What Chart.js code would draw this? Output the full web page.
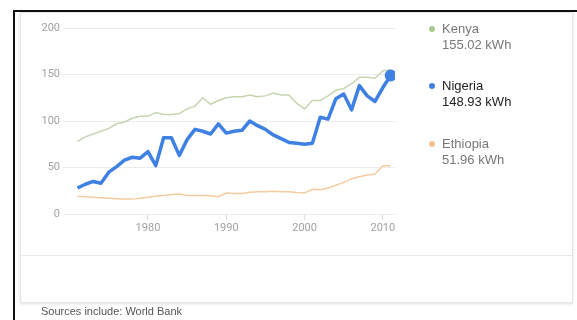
<!DOCTYPE html>
<html>
<head>
<meta charset="utf-8">
<script src="https://cdn.jsdelivr.net/npm/chart.js@4.4.1/dist/chart.umd.min.js"></script>
<style>
    html, body { margin: 0; width: 577px; height: 320px; overflow: hidden; background: #fff; }
    body { font-family: "Liberation Sans", Arial, sans-serif; position: relative; }
    #frame { position: absolute; left: 13px; top: 10px; width: 562px; height: 310px; border-left: 2px solid #111; border-top: 2px solid #111; }
    #card { position: absolute; left: 20px; top: 12px; width: 551px; height: 289px; border: 1px solid #e6e6e6; box-shadow: 0 1px 3px rgba(0,0,0,0.12); background: #fff; }
    #sep { position: absolute; left: 21px; top: 255px; width: 551px; border-top: 1px solid #e8e8e8; }
    #grafico { position: absolute; left: 0; top: 0; }
    .leyenda { position: absolute; left: 442px; font-size: 13px; line-height: 16px; color: #777; }
    .leyenda .punto { position: absolute; left: -13px; top: 5px; width: 6px; height: 6px; border-radius: 50%; }
    #fuente { position: absolute; left: 41px; top: 305px; font-size: 11px; color: #555; }
</style>
</head>
<body>
<div id="frame"></div>
<div id="card"></div>
<div id="sep"></div>
<canvas id="grafico" width="577" height="320"></canvas>
<div id="leyendas"></div>
<div id="fuente">Sources include: World Bank</div>
<script>
// Consumo eléctrico per cápita (kWh)
const years = [1971, 1972, 1973, 1974, 1975, 1976, 1977, 1978, 1979, 1980,
    1981, 1982, 1983, 1984, 1985, 1986, 1987, 1988, 1989, 1990,
    1991, 1992, 1993, 1994, 1995, 1996, 1997, 1998, 1999, 2000,
    2001, 2002, 2003, 2004, 2005, 2006, 2007, 2008, 2009, 2010, 2011];

const nigeria = [28, 32, 35, 33, 45, 51, 58, 61, 60, 67,
    52, 82, 82, 63, 80, 91, 89, 86, 97, 87,
    89, 90, 100, 95, 91, 85, 81, 77, 76, 75,
    76, 104, 102, 124, 129, 112, 138, 127, 121, 136, 148.93];

const kenya = [78, 83, 86, 89, 92, 97, 99, 103, 105, 105,
    109, 107, 107, 108, 113, 116, 125, 118, 122, 125,
    126, 126, 128, 126, 127, 130, 128, 128, 119, 113,
    122, 122, 127, 133, 135, 140, 147, 147, 146, 154, 155.02];

const ethiopia = [19, 18.5, 18, 17.5, 17, 16.5, 16, 16, 17, 18,
    19, 20, 21, 21.5, 20, 20, 20, 19.5, 18.5, 22.5,
    22, 22, 23.5, 24, 24, 24.5, 24, 24, 23, 22.5,
    26.5, 26, 28, 31, 34, 38, 40, 42, 43, 52, 51.96];

const yearTicks = [1980, 1990, 2000, 2010];
const valueTicks = [0, 50, 100, 150, 200];

const series = [
    { name: 'Kenya', data: kenya, color: '#c6d5b0', dot: '#a9c78f', width: 1.5, top: 21, text: '#777' },
    { name: 'Nigeria', data: nigeria, color: '#3f80e3', dot: '#3f80e3', width: 3.5, top: 78, text: '#222' },
    { name: 'Ethiopia', data: ethiopia, color: '#f6cc9f', dot: '#f4c08a', width: 1.5, top: 136, text: '#777' }
];

function puntos(valores) {
    return years.map((y, i) => ({ x: y, y: valores[i] }));
}

// Leyenda a la derecha con el último valor
const cont = document.getElementById('leyendas');
series.forEach(s => {
    const ultimo = s.data[s.data.length - 1];
    cont.insertAdjacentHTML('beforeend',
        `<div class="leyenda" style="top:${s.top}px;color:${s.text}"><span class="punto" style="background:${s.dot}"></span>${s.name}<br>${ultimo.toFixed(2)} kWh</div>`);
});

const nig = series[1];
const ultimoIdx = nigeria.length - 1;

const ctx = document.getElementById('grafico').getContext('2d');
new Chart(ctx, {
    type: 'line',
    data: {
        datasets: [
            {
                label: nig.name,
                data: puntos(nigeria),
                borderColor: nig.color,
                backgroundColor: nig.color,
                borderWidth: nig.width,
                pointRadius: c => c.dataIndex === ultimoIdx ? 6 : 0,
                pointBorderWidth: 0,
                borderJoinStyle: 'round',
                tension: 0
            },
            {
                label: series[0].name,
                data: puntos(kenya),
                borderColor: series[0].color,
                borderWidth: series[0].width,
                pointRadius: 0,
                tension: 0
            },
            {
                label: series[2].name,
                data: puntos(ethiopia),
                borderColor: series[2].color,
                borderWidth: series[2].width,
                pointRadius: 0,
                tension: 0
            }
        ]
    },
    options: {
        responsive: false,
        animation: false,
        layout: { padding: { left: 0, top: 28, right: 182, bottom: 82 } },
        plugins: {
            legend: { display: false },
            tooltip: { enabled: false }
        },
        scales: {
            x: {
                type: 'linear',
                min: 1969.15,
                max: 2011.55,
                afterBuildTicks: scale => { scale.ticks = yearTicks.map(v => ({ value: v })); },
                afterFit: scale => { scale.height = 24; },
                grid: { drawOnChartArea: false, drawTicks: true, tickLength: 6, color: '#dcdcdc' },
                border: { display: false },
                ticks: {
                    color: '#a2a2a2',
                    font: { family: 'Roboto', size: 11 },
                    padding: 2,
                    maxRotation: 0,
                    callback: v => String(v)
                }
            },
            y: {
                min: 0,
                max: 200,
                afterBuildTicks: scale => { scale.ticks = valueTicks.map(v => ({ value: v })); },
                afterFit: scale => { scale.width = 63; },
                grid: { drawTicks: false, color: '#ececec' },
                border: { display: false },
                ticks: {
                    color: '#a2a2a2',
                    font: { family: 'Roboto', size: 11 },
                    padding: 3
                }
            }
        }
    }
});
</script>
</body>
</html>
